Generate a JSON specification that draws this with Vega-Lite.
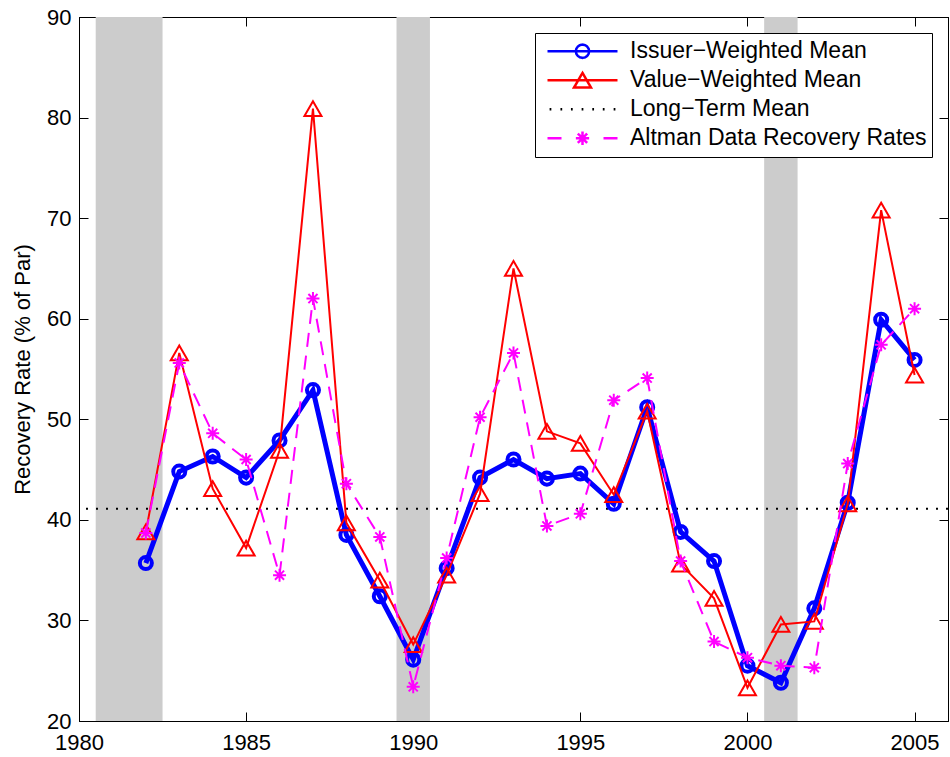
{
  "$schema": "https://vega.github.io/schema/vega-lite/v6.json",
  "width": 869,
  "height": 704,
  "autosize": {"type": "none"},
  "padding": {"left": 79, "top": 17, "right": 2, "bottom": 36},
  "background": "white",
  "config": {
    "view": {"stroke": "black", "strokeWidth": 1},
    "font": "Liberation Sans",
    "axis": {
      "grid": false,
      "domainColor": "black",
      "domainWidth": 1,
      "tickColor": "black",
      "tickWidth": 1,
      "labelColor": "black",
      "labelFont": "Liberation Sans",
      "labelFontSize": 22,
      "titleFont": "Liberation Sans",
      "titleFontSize": 22,
      "titleFontWeight": "normal",
      "titleColor": "black"
    },
    "legend": {
      "title": null,
      "orient": "top-right",
      "offset": 16,
      "padding": 5,
      "strokeColor": "black",
      "fillColor": "white",
      "cornerRadius": 0,
      "labelFontSize": 23,
      "labelFont": "Liberation Sans",
      "labelColor": "black",
      "labelLimit": 600,
      "labelOffset": 11,
      "symbolOffset": 6,
      "symbolSize": 4900,
      "symbolOpacity": 1,
      "symbolStrokeWidth": 2.5,
      "symbolFillColor": "transparent",
      "symbolDash": [1, 0],
      "clipHeight": 26.5,
      "rowPadding": 2
    }
  },
  "datasets": {
    "recessions": [
      {"start": 1980.5, "end": 1982.5},
      {"start": 1989.5, "end": 1990.5},
      {"start": 2000.5, "end": 2001.5}
    ],
    "ltmean": [
      {"series": "Long−Term Mean", "value": 41.1}
    ],
    "rates": [
      {"year": 1982, "series": "Issuer−Weighted Mean", "value": 35.7},
      {"year": 1983, "series": "Issuer−Weighted Mean", "value": 44.8},
      {"year": 1984, "series": "Issuer−Weighted Mean", "value": 46.3},
      {"year": 1985, "series": "Issuer−Weighted Mean", "value": 44.2},
      {"year": 1986, "series": "Issuer−Weighted Mean", "value": 47.9},
      {"year": 1987, "series": "Issuer−Weighted Mean", "value": 52.9},
      {"year": 1988, "series": "Issuer−Weighted Mean", "value": 38.5},
      {"year": 1989, "series": "Issuer−Weighted Mean", "value": 32.4},
      {"year": 1990, "series": "Issuer−Weighted Mean", "value": 26.1},
      {"year": 1991, "series": "Issuer−Weighted Mean", "value": 35.2},
      {"year": 1992, "series": "Issuer−Weighted Mean", "value": 44.2},
      {"year": 1993, "series": "Issuer−Weighted Mean", "value": 46.0},
      {"year": 1994, "series": "Issuer−Weighted Mean", "value": 44.1},
      {"year": 1995, "series": "Issuer−Weighted Mean", "value": 44.6},
      {"year": 1996, "series": "Issuer−Weighted Mean", "value": 41.6},
      {"year": 1997, "series": "Issuer−Weighted Mean", "value": 51.2},
      {"year": 1998, "series": "Issuer−Weighted Mean", "value": 38.8},
      {"year": 1999, "series": "Issuer−Weighted Mean", "value": 35.9},
      {"year": 2000, "series": "Issuer−Weighted Mean", "value": 25.5},
      {"year": 2001, "series": "Issuer−Weighted Mean", "value": 23.8},
      {"year": 2002, "series": "Issuer−Weighted Mean", "value": 31.2},
      {"year": 2003, "series": "Issuer−Weighted Mean", "value": 41.7},
      {"year": 2004, "series": "Issuer−Weighted Mean", "value": 59.9},
      {"year": 2005, "series": "Issuer−Weighted Mean", "value": 55.9},
      {"year": 1982, "series": "Value−Weighted Mean", "value": 38.8},
      {"year": 1983, "series": "Value−Weighted Mean", "value": 56.6},
      {"year": 1984, "series": "Value−Weighted Mean", "value": 43.1},
      {"year": 1985, "series": "Value−Weighted Mean", "value": 37.2},
      {"year": 1986, "series": "Value−Weighted Mean", "value": 46.9},
      {"year": 1987, "series": "Value−Weighted Mean", "value": 80.9},
      {"year": 1988, "series": "Value−Weighted Mean", "value": 39.7},
      {"year": 1989, "series": "Value−Weighted Mean", "value": 34.0},
      {"year": 1990, "series": "Value−Weighted Mean", "value": 27.6},
      {"year": 1991, "series": "Value−Weighted Mean", "value": 34.5},
      {"year": 1992, "series": "Value−Weighted Mean", "value": 42.6},
      {"year": 1993, "series": "Value−Weighted Mean", "value": 65.0},
      {"year": 1994, "series": "Value−Weighted Mean", "value": 48.8},
      {"year": 1995, "series": "Value−Weighted Mean", "value": 47.6},
      {"year": 1996, "series": "Value−Weighted Mean", "value": 42.5},
      {"year": 1997, "series": "Value−Weighted Mean", "value": 50.8},
      {"year": 1998, "series": "Value−Weighted Mean", "value": 35.6},
      {"year": 1999, "series": "Value−Weighted Mean", "value": 32.2},
      {"year": 2000, "series": "Value−Weighted Mean", "value": 23.3},
      {"year": 2001, "series": "Value−Weighted Mean", "value": 29.6},
      {"year": 2002, "series": "Value−Weighted Mean", "value": 29.9},
      {"year": 2003, "series": "Value−Weighted Mean", "value": 41.6},
      {"year": 2004, "series": "Value−Weighted Mean", "value": 70.8},
      {"year": 2005, "series": "Value−Weighted Mean", "value": 54.4},
      {"year": 1982, "series": "Altman Data Recovery Rates", "value": 38.7},
      {"year": 1983, "series": "Altman Data Recovery Rates", "value": 55.6},
      {"year": 1984, "series": "Altman Data Recovery Rates", "value": 48.6},
      {"year": 1985, "series": "Altman Data Recovery Rates", "value": 46.0},
      {"year": 1986, "series": "Altman Data Recovery Rates", "value": 34.5},
      {"year": 1987, "series": "Altman Data Recovery Rates", "value": 62.0},
      {"year": 1988, "series": "Altman Data Recovery Rates", "value": 43.6},
      {"year": 1989, "series": "Altman Data Recovery Rates", "value": 38.3},
      {"year": 1990, "series": "Altman Data Recovery Rates", "value": 23.4},
      {"year": 1991, "series": "Altman Data Recovery Rates", "value": 36.2},
      {"year": 1992, "series": "Altman Data Recovery Rates", "value": 50.2},
      {"year": 1993, "series": "Altman Data Recovery Rates", "value": 56.6},
      {"year": 1994, "series": "Altman Data Recovery Rates", "value": 39.4},
      {"year": 1995, "series": "Altman Data Recovery Rates", "value": 40.6},
      {"year": 1996, "series": "Altman Data Recovery Rates", "value": 51.9},
      {"year": 1997, "series": "Altman Data Recovery Rates", "value": 54.1},
      {"year": 1998, "series": "Altman Data Recovery Rates", "value": 35.9},
      {"year": 1999, "series": "Altman Data Recovery Rates", "value": 27.9},
      {"year": 2000, "series": "Altman Data Recovery Rates", "value": 26.3},
      {"year": 2001, "series": "Altman Data Recovery Rates", "value": 25.5},
      {"year": 2002, "series": "Altman Data Recovery Rates", "value": 25.3},
      {"year": 2003, "series": "Altman Data Recovery Rates", "value": 45.6},
      {"year": 2004, "series": "Altman Data Recovery Rates", "value": 57.4},
      {"year": 2005, "series": "Altman Data Recovery Rates", "value": 61.0}
    ]
  },
  "layer": [
    {
      "data": {"name": "recessions"},
      "mark": {"type": "rect", "color": "#cccccc"},
      "encoding": {
        "x": {"field": "start", "type": "quantitative",
              "scale": {"domain": [1980, 2006], "nice": false, "zero": false},
              "axis": {"orient": "bottom", "values": [1980, 1985, 1990, 1995, 2000, 2005], "format": "d", "tickSize": -9, "labelPadding": 20, "title": null, "labelFlush": false, "labelOverlap": false}},
        "x2": {"field": "end"},
        "y": {"datum": 90, "type": "quantitative",
              "scale": {"domain": [20, 90], "nice": false, "zero": false},
              "axis": {"orient": "left", "values": [20, 30, 40, 50, 60, 70, 80, 90], "tickSize": -9, "labelPadding": 17, "title": "Recovery Rate (% of Par)", "titlePadding": 12, "labelFlush": false, "labelOverlap": false}},
        "y2": {"datum": 20}
      }
    },
    {
      "data": {"name": "ltmean"},
      "mark": {"type": "rule", "strokeDash": [2, 8], "strokeWidth": 2},
      "encoding": {
        "y": {"field": "value", "type": "quantitative", "axis": null},
        "color": {
          "field": "series", "type": "nominal",
          "scale": {"domain": ["Issuer−Weighted Mean", "Value−Weighted Mean", "Long−Term Mean", "Altman Data Recovery Rates"], "range": ["#0000ff", "#ff0000", "#000000", "#ff00ff"]}
        }
      }
    },
    {
      "data": {"name": "rates"},
      "transform": [{"filter": "datum.series === 'Issuer−Weighted Mean'"}],
      "mark": {"type": "line", "strokeWidth": 5},
      "encoding": {
        "x": {"field": "year", "type": "quantitative",
              "axis": {"orient": "top", "values": [1980, 1985, 1990, 1995, 2000, 2005], "labels": false, "tickSize": -9, "title": null}},
        "y": {"field": "value", "type": "quantitative",
              "axis": {"orient": "right", "values": [20, 30, 40, 50, 60, 70, 80, 90], "labels": false, "tickSize": -9, "title": null}},
        "color": {"field": "series", "type": "nominal"}
      }
    },
    {
      "data": {"name": "rates"},
      "transform": [{"filter": "datum.series === 'Issuer−Weighted Mean'"}],
      "mark": {"type": "point", "shape": "circle", "filled": false, "size": 145, "strokeWidth": 4, "opacity": 1},
      "encoding": {
        "x": {"field": "year", "type": "quantitative", "axis": null},
        "y": {"field": "value", "type": "quantitative", "axis": null},
        "color": {"field": "series", "type": "nominal"}
      }
    },
    {
      "data": {"name": "rates"},
      "transform": [{"filter": "datum.series === 'Value−Weighted Mean'"}],
      "mark": {"type": "line", "strokeWidth": 2},
      "encoding": {
        "x": {"field": "year", "type": "quantitative", "axis": null},
        "y": {"field": "value", "type": "quantitative", "axis": null},
        "color": {"field": "series", "type": "nominal"}
      }
    },
    {
      "data": {"name": "rates"},
      "transform": [{"filter": "datum.series === 'Value−Weighted Mean'"}],
      "mark": {"type": "point", "shape": "triangle-up", "filled": false, "size": 289, "strokeWidth": 2, "opacity": 1},
      "encoding": {
        "x": {"field": "year", "type": "quantitative", "axis": null},
        "y": {"field": "value", "type": "quantitative", "axis": null},
        "color": {"field": "series", "type": "nominal"}
      }
    },
    {
      "data": {"name": "rates"},
      "transform": [{"filter": "datum.series === 'Altman Data Recovery Rates'"}],
      "mark": {"type": "line", "strokeWidth": 2, "strokeDash": [14, 9]},
      "encoding": {
        "x": {"field": "year", "type": "quantitative", "axis": null},
        "y": {"field": "value", "type": "quantitative", "axis": null},
        "color": {"field": "series", "type": "nominal"}
      }
    },
    {
      "data": {"name": "rates"},
      "transform": [{"filter": "datum.series === 'Altman Data Recovery Rates'"}],
      "mark": {"type": "point", "shape": "M-1,0H1M0,-1V1M-0.7,-0.7L0.7,0.7M-0.7,0.7L0.7,-0.7", "filled": false, "size": 169, "strokeWidth": 2, "opacity": 1},
      "encoding": {
        "x": {"field": "year", "type": "quantitative", "axis": null},
        "y": {"field": "value", "type": "quantitative", "axis": null},
        "color": {"field": "series", "type": "nominal"}
      }
    },
    {
      "data": {"name": "rates"},
      "mark": {"type": "point", "filled": false, "opacity": 0, "size": 1},
      "encoding": {
        "x": {"field": "year", "type": "quantitative", "axis": null},
        "y": {"field": "value", "type": "quantitative", "axis": null},
        "color": {"field": "series", "type": "nominal"},
        "shape": {
          "field": "series", "type": "nominal",
          "scale": {
            "domain": ["Issuer−Weighted Mean", "Value−Weighted Mean", "Long−Term Mean", "Altman Data Recovery Rates"],
            "range": [
              "M-1,0H1M0.19,0L0.1756,0.0727L0.1343,0.1343L0.0727,0.1756L0,0.19L-0.0727,0.1756L-0.1343,0.1343L-0.1756,0.0727L-0.19,0L-0.1756,-0.0727L-0.1343,-0.1343L-0.0727,-0.1756L0,-0.19L0.0727,-0.1756L0.1343,-0.1343L0.1756,-0.0727Z",
              "M-1,0H1M0,-0.21L-0.243,0.21L0.243,0.21Z",
              "M-0.94,0H-0.89M-0.63,0H-0.58M-0.33,0H-0.28M-0.025,0H0.025M0.28,0H0.33M0.58,0H0.63M0.89,0H0.94",
              "M-1,0H-0.6M0.6,0H1M-0.19,0H0.19M0,-0.19V0.19M-0.134,-0.134L0.134,0.134M-0.134,0.134L0.134,-0.134"
            ]
          }
        }
      }
    }
  ],
  "resolve": {"axis": {"x": "independent", "y": "independent"}}
}
